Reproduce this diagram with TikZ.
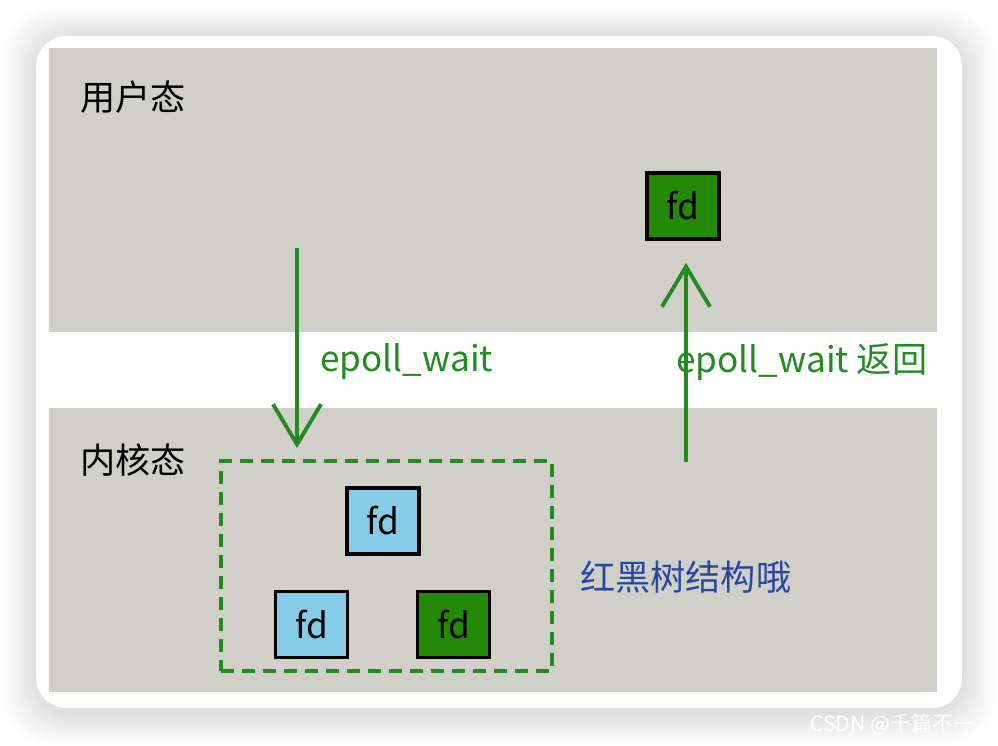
\documentclass[tikz,border=0pt]{standalone}
\usepackage{fontspec}
\setmainfont{Noto Sans CJK SC}
\usetikzlibrary{arrows.meta,positioning,calc}
\definecolor{panelgrey}{RGB}{208,208,200}
\definecolor{arrowgreen}{RGB}{34,139,34}
\definecolor{fdgreen}{RGB}{36,138,6}
\definecolor{fdblue}{RGB}{135,204,230}
\definecolor{treeblue}{RGB}{38,72,160}
\tikzset{
    panel/.style={
        fill=panelgrey,
        draw=none
    },
    fdbox/.style={
        draw=black,
        line width=2.2pt,
        minimum width=1.44cm,
        minimum height=1.32cm,
        inner sep=0pt,
        font=\fontsize{20}{24}\selectfont
    },
    flow/.style={
        arrowgreen,
        line width=2.2pt,
        -{Straight Barb[length=0.8cm, width=0.96cm, line width=2.2pt]}
    },
    caption/.style={
        font=\fontsize{20}{24}\selectfont,
        inner sep=0pt,
        anchor=west
    }
}

\begin{document}
\begin{tikzpicture}[x=0.02cm, y=-0.02cm]
    \useasboundingbox (0,0) rectangle (998,746);
    % card with soft shadow
    \foreach \s in {2,4,...,32} {
        \fill [black, opacity=0.009, rounded corners=0.9cm]
            (36-\s,36-\s+4) rectangle (962+\s,708+\s+4);
    }
    \fill [white, rounded corners=0.6cm] (36,36) rectangle (962,708);
    % the two layers
    \fill [panel] (49,48) rectangle (937,332);
    \fill [panel] (49,408) rectangle (937,692);
    \node [caption] (user) at (80,97) {用户态};
    \node [caption] (kernel) at (80,460) {内核态};
    % red-black tree in the kernel
    \node [draw=arrowgreen, line width=2.2pt, dash pattern=on 0.26cm off 0.16cm,
        minimum width=6.62cm, minimum height=4.2cm] (rbtree) at (386.5,566) {};
    \node [fdbox, fill=fdblue] (root) at (383,521) {fd};
    \node [fdbox, fill=fdblue] (leftfd) at (311.5,624.5) {fd};
    \node [fdbox, fill=fdgreen] (rightfd) at (453.5,624.5) {fd};
    \node [caption, text=treeblue] (treenote) at (580,577) {红黑树结构哦};
    % ready fd handed back to user space
    \node [fdbox, fill=fdgreen] (readyfd) at (683,206) {fd};
    \coordinate (waitstart) at (297,248);
    \coordinate (retstart) at (686,462);
    \draw [flow] (waitstart) -- ($(rbtree.north -| waitstart)+(0,-11)$);
    \draw [flow] (retstart) -- ($(readyfd.south -| retstart)+(0,22)$);
    \node [caption, text=arrowgreen] (waitlabel) at (320,362) {epoll\_wait};
    \node [caption, text=arrowgreen] (retlabel) at (676,362) {epoll\_wait 返回};
    % watermark
    \node [font=\fontsize{12}{14}\selectfont, text=white, anchor=west, inner sep=0pt]
        (mark) at (810,724) {CSDN @千篇不一};
\end{tikzpicture}
\end{document}
